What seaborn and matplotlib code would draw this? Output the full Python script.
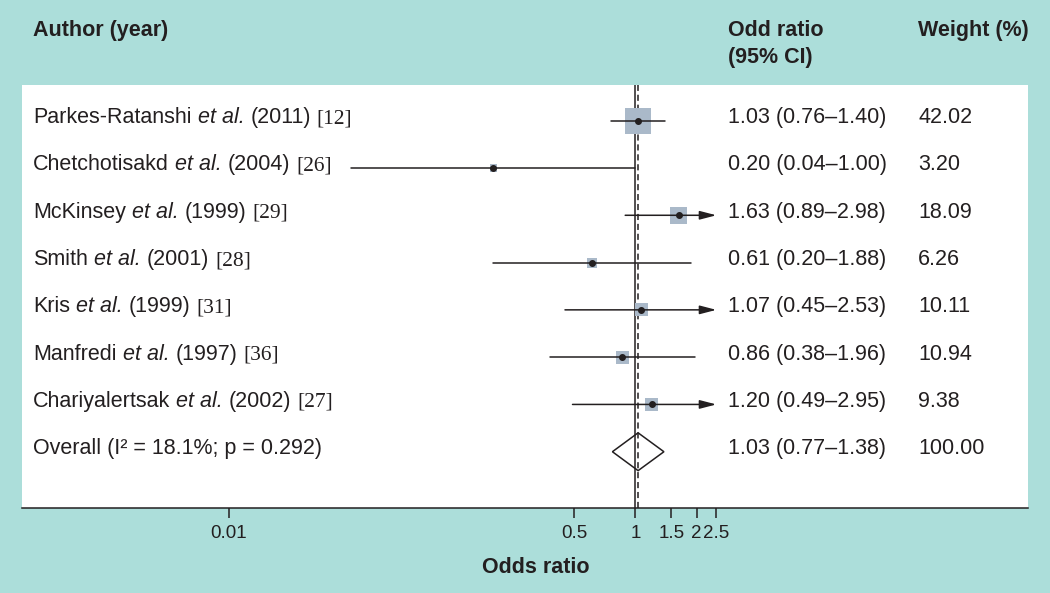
import matplotlib
matplotlib.use('Agg')
import matplotlib.pyplot as plt
import matplotlib.transforms as mtransforms
from matplotlib.ticker import NullLocator
import seaborn as sns

# study data
authors = ['Parkes-Ratanshi', 'Chetchotisakd', 'McKinsey', 'Smith',
           'Kris', 'Manfredi', 'Chariyalertsak']
years = [2011, 2004, 1999, 2001, 1999, 1997, 2002]
refs = [12, 26, 29, 28, 31, 36, 27]
odds = [1.03, 0.20, 1.63, 0.61, 1.07, 0.86, 1.20]
ci_low = [0.76, 0.04, 0.89, 0.20, 0.45, 0.38, 0.49]
ci_high = [1.40, 1.00, 2.98, 1.88, 2.53, 1.96, 2.95]
weights = [42.02, 3.20, 18.09, 6.26, 10.11, 10.94, 9.38]

overall_or = 1.03
overall_low = 0.77
overall_high = 1.38
overall_weight = 100.00
i2 = 18.1
p_value = 0.292

tick_values = [0.01, 0.5, 1, 1.5, 2, 2.5]
tick_labels = ['0.01', '0.5', '1', '1.5', '2', '2.5']

sns.set_style('white')
plt.rcParams['font.family'] = ['Liberation Sans', 'DejaVu Sans']

bg = '#acdeda'
ink = '#231f20'
box_color = '#aab9c9'
fs = 15.5

fig = plt.figure(figsize=(10.5, 5.93), dpi=100, facecolor=bg)
ax = fig.add_axes([22 / 1050, 85 / 593, 1006 / 1050, 423 / 593])
ax.set_facecolor('white')
ax.set_xscale('log')

rows = list(range(1, len(authors) + 1))
overall_row = len(authors) + 1
cap = tick_values[-1]

# confidence intervals, arrows where they run past the last tick
for y, lo, hi in zip(rows, ci_low, ci_high):
    if hi > cap:
        ax.annotate('', xy=(cap, y), xytext=(lo, y),
                    arrowprops=dict(arrowstyle='-|>,head_length=1.0,head_width=0.26',
                                    mutation_scale=10, color=ink, lw=1.1,
                                    shrinkA=0, shrinkB=0), zorder=3)
    else:
        ax.plot([lo, hi], [y, y], color=ink, lw=1.1, zorder=3)

k = 8.3
sns.scatterplot(x=odds, y=rows, size=weights,
                sizes=(k * min(weights), k * max(weights)),
                marker='s', color=box_color, linewidth=0,
                legend=False, ax=ax, zorder=2)
ax.plot(odds, rows, 'o', ms=4, color=ink, zorder=4)

ax.axvline(1, color=ink, lw=1.1, zorder=1)
ax.axvline(overall_or, color=ink, lw=1.1, ls=(0, (4, 2.5)), zorder=1)

ax.fill([overall_low, overall_or, overall_high, overall_or],
        [overall_row, overall_row - 0.4, overall_row, overall_row + 0.4],
        facecolor='none', edgecolor=ink, lw=1.1, zorder=5)

ax.set_xlim(10 ** -3.018, 10 ** 1.931)
ax.set_ylim(9.19, 0.245)
ax.set_yticks([])
ax.set_xticks(tick_values)
ax.set_xticklabels(tick_labels)
ax.xaxis.set_minor_locator(NullLocator())
ax.tick_params(axis='x', which='major', bottom=True, length=7, width=1.1,
               pad=5, labelsize=13.5, colors=ink, direction='out')
for side in ['top', 'left', 'right']:
    ax.spines[side].set_visible(False)
ax.spines['bottom'].set_color(ink)
ax.spines['bottom'].set_linewidth(1.1)

ax.set_xlabel('Odds ratio', fontweight='bold', fontsize=fs, color=ink)
ax.xaxis.set_label_coords(0.511, -0.117)

# text columns
row_tf = mtransforms.offset_copy(
    mtransforms.blended_transform_factory(ax.transAxes, ax.transData),
    fig=fig, x=0, y=-2.5, units='dots')
col_author = 0.011
col_or = 0.702
col_w = 0.891

for y, name, yr, ref, o, lo, hi, w in zip(rows, authors, years, refs, odds,
                                          ci_low, ci_high, weights):
    t = ax.text(col_author, y, name, transform=row_tf, va='baseline',
                fontsize=fs, color=ink)
    t = ax.annotate('et al.', xy=(1, 0), xycoords=t, xytext=(4.3, 0),
                    textcoords='offset points', va='bottom', style='italic',
                    fontsize=fs, color=ink)
    t = ax.annotate(f'({yr})', xy=(1, 0), xycoords=t, xytext=(4.3, 0),
                    textcoords='offset points', va='bottom',
                    fontsize=fs, color=ink)
    ax.annotate(f'[{ref}]', xy=(1, 0), xycoords=t, xytext=(4.3, 0),
                textcoords='offset points', va='bottom',
                family='Liberation Serif', fontsize=fs, color=ink)
    ax.text(col_or, y, f'{o:.2f} ({lo:.2f}\u2013{hi:.2f})', transform=row_tf,
            va='baseline', fontsize=fs, color=ink)
    ax.text(col_w, y, f'{w:.2f}', transform=row_tf, va='baseline',
            fontsize=fs, color=ink)

ax.text(col_author, overall_row, f'Overall (I\u00b2 = {i2}%; p = {p_value})',
        transform=row_tf, va='baseline', fontsize=fs, color=ink)
ax.text(col_or, overall_row,
        f'{overall_or:.2f} ({overall_low:.2f}\u2013{overall_high:.2f})',
        transform=row_tf, va='baseline', fontsize=fs, color=ink)
ax.text(col_w, overall_row, f'{overall_weight:.2f}', transform=row_tf,
        va='baseline', fontsize=fs, color=ink)

# headers
ax.text(col_author, 1.1158, 'Author (year)', transform=ax.transAxes,
        va='baseline', fontweight='bold', fontsize=fs, color=ink)
ax.text(col_or, 1.1158, 'Odd ratio', transform=ax.transAxes,
        va='baseline', fontweight='bold', fontsize=fs, color=ink)
ax.text(col_or, 1.052, '(95% CI)', transform=ax.transAxes,
        va='baseline', fontweight='bold', fontsize=fs, color=ink)
ax.text(col_w, 1.1158, 'Weight (%)', transform=ax.transAxes,
        va='baseline', fontweight='bold', fontsize=fs, color=ink)

fig.savefig('out.png', dpi=100, facecolor=bg)
